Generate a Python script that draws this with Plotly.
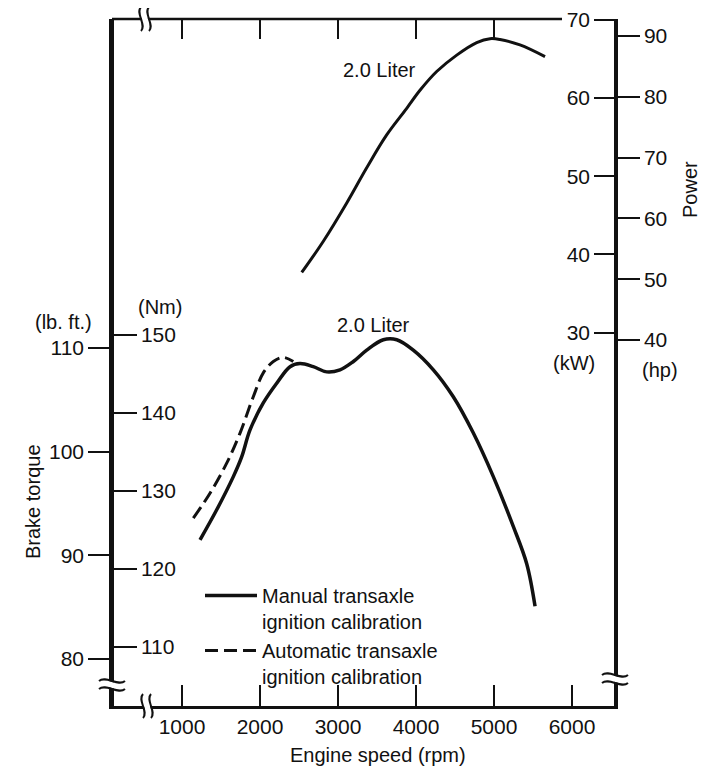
import plotly.graph_objects as go

# ---- data ----
power_rpm = [2535, 2812, 3112, 3368, 3624, 3881, 4051, 4265, 4522, 4778, 4949, 5077, 5333, 5654]
power_kw = [37.7, 41.7, 46.6, 51.1, 55.3, 58.7, 61.0, 63.4, 65.5, 67.1, 67.6, 67.5, 66.8, 65.3]

manual_rpm = [1231, 1445, 1658, 1765, 1872, 2042, 2214, 2385, 2513, 2683, 2855, 3026, 3197, 3368,
              3581, 3753, 3965, 4222, 4478, 4735, 4991, 5247, 5419, 5526]
manual_lbft = [91.5, 94.4, 97.6, 99.5, 102.1, 104.7, 106.6, 108.2, 108.5, 108.2, 107.7, 107.9, 108.7,
               109.8, 110.8, 110.8, 109.8, 107.9, 105.3, 101.8, 97.6, 92.8, 89.2, 85.1]

auto_rpm = [1145, 1359, 1573, 1744, 1914, 2042, 2171, 2299, 2427]
auto_lbft = [93.6, 96.0, 98.9, 101.8, 105.3, 107.6, 108.7, 109.1, 108.7]

rpm_ticks = [1000, 2000, 3000, 4000, 5000, 6000]
rpm_top_ticks = [1000, 2000, 3000, 4000, 5000]
lbft_ticks = [80, 90, 100, 110]
nm_ticks = [110, 120, 130, 140, 150]
kw_ticks = [30, 40, 50, 60, 70]
hp_ticks = [40, 50, 60, 70, 80, 90]

FONT = "Liberation Sans"
INK = "#111111"

# page geometry (browser body has an 8px margin)
FIG_W, FIG_H = 700, 763
PL, PR, PT, PB = 112, 615, 19, 706   # plot area edges in page pixels
W, H = PR - PL, PB - PT

fig = go.Figure()
fig.add_trace(go.Scatter(x=power_rpm, y=power_kw, mode="lines", yaxis="y3",
                         line=dict(color=INK, width=3, shape="spline"), showlegend=False))
fig.add_trace(go.Scatter(x=manual_rpm, y=manual_lbft, mode="lines", yaxis="y",
                         name="Manual transaxle<br>ignition calibration",
                         line=dict(color=INK, width=3.5, shape="spline")))
fig.add_trace(go.Scatter(x=auto_rpm, y=auto_lbft, mode="lines", yaxis="y",
                         name="Automatic transaxle<br>ignition calibration",
                         line=dict(color=INK, width=3, shape="spline", dash="13px,6px")))
# empty traces so the secondary axes render
fig.add_trace(go.Scatter(x=[None], y=[None], yaxis="y2", showlegend=False))
fig.add_trace(go.Scatter(x=[None], y=[None], yaxis="y4", showlegend=False))
fig.add_trace(go.Scatter(x=[None], y=[None], xaxis="x2", showlegend=False))

tickfont = dict(family=FONT, size=21, color=INK)
common = dict(showgrid=False, zeroline=False, showline=True, linecolor=INK, linewidth=2.5,
              tickcolor=INK, tickwidth=2, tickfont=tickfont, automargin=False)
x_range = [102.6, 6551]

fig.update_layout(
    width=FIG_W, height=FIG_H,
    margin=dict(l=PL - 8, r=FIG_W + 8 - PR, t=PT - 8, b=FIG_H + 8 - PB),
    paper_bgcolor="white", plot_bgcolor="white",
    font=dict(family=FONT, size=20, color=INK),
    xaxis=dict(range=x_range, tickvals=rpm_ticks, ticks="inside", ticklen=21, **common),
    xaxis2=dict(range=x_range, tickvals=rpm_top_ticks, ticks="inside", ticklen=20, side="top",
                overlaying="x", showticklabels=False, showgrid=False, zeroline=False,
                showline=False, tickcolor=INK, tickwidth=2),
    yaxis=dict(range=[75.48, 141.73], tickvals=lbft_ticks, ticks="outside", ticklen=21,
               side="left", **common),
    yaxis2=dict(range=[102.44, 190.51], tickvals=nm_ticks, ticks="outside", ticklen=23,
                side="right", anchor="free", position=0, overlaying="y", **common),
    yaxis3=dict(range=[-17.75, 70.12], tickvals=kw_ticks, ticks="outside", ticklen=20,
                side="left", anchor="free", position=1, overlaying="y", **common),
    yaxis4=dict(range=[-20.2, 92.8], tickvals=hp_ticks, ticks="outside", ticklen=22,
                side="right", overlaying="y", **common),
    legend=dict(x=(200 - PL) / W, y=(PB - 576) / H, xanchor="left", yanchor="top", valign="top",
                font=dict(family=FONT, size=20, color=INK), bgcolor="rgba(0,0,0,0)",
                itemwidth=52, tracegroupgap=0),
)

# top border line (stops short of the "70" kW label)
fig.add_shape(type="line", xref="paper", yref="paper", x0=0, x1=(562 - PL) / W, y0=1, y1=1,
              line=dict(color=INK, width=2.5), layer="above")


def ann(text, px, py, angle=0):
    """Text placed at a page-pixel position (converted to plot-area fraction)."""
    fig.add_annotation(text=text, x=(px - PL) / W, y=(PB - py) / H, xref="paper", yref="paper",
                       xanchor="center", yanchor="middle", showarrow=False, textangle=angle,
                       font=dict(family=FONT, size=20, color=INK))


fig.add_annotation(text="2.0 Liter", x=3538, y=63.6, xref="x", yref="y3", showarrow=False,
                   xanchor="center", yanchor="middle", font=dict(family=FONT, size=20, color=INK))
fig.add_annotation(text="2.0 Liter", x=3449, y=112.2, xref="x", yref="y", showarrow=False,
                   xanchor="center", yanchor="middle", font=dict(family=FONT, size=20, color=INK))
ann("Brake torque", 33, 502, angle=-90)
ann("Power", 690, 190, angle=-90)
ann("(lb. ft.)", 63, 322)
ann("(Nm)", 160, 307)
ann("(kW)", 574, 363)
ann("(hp)", 660, 370)
ann("Engine speed (rpm)", 378, 755)


# axis break marks
def hbreak(xf, yf):
    fill = "M -13,3 C -6,9 6,-3 13,3 L 13,-3 C 6,-9 -6,3 -13,-3 Z"
    fig.add_shape(type="path", path=fill, xref="paper", yref="paper", xsizemode="pixel",
                  ysizemode="pixel", xanchor=xf, yanchor=yf, fillcolor="white",
                  line=dict(width=0), layer="above")
    for d in (4, -4):
        p = f"M -13,{d} C -6,{d+6} 6,{d-6} 13,{d}"
        fig.add_shape(type="path", path=p, xref="paper", yref="paper", xsizemode="pixel",
                      ysizemode="pixel", xanchor=xf, yanchor=yf, fillcolor="rgba(0,0,0,0)",
                      line=dict(color=INK, width=2), layer="above")


def vbreak(xf, yf):
    fill = "M -3,-12 C 3,-6 -9,6 -3,12 L 3,12 C -3,6 9,-6 3,-12 Z"
    fig.add_shape(type="path", path=fill, xref="paper", yref="paper", xsizemode="pixel",
                  ysizemode="pixel", xanchor=xf, yanchor=yf, fillcolor="white",
                  line=dict(width=0), layer="above")
    for d in (-4, 4):
        p = f"M {d},-12 C {d+6},-6 {d-6},6 {d},12"
        fig.add_shape(type="path", path=p, xref="paper", yref="paper", xsizemode="pixel",
                      ysizemode="pixel", xanchor=xf, yanchor=yf, fillcolor="rgba(0,0,0,0)",
                      line=dict(color=INK, width=2), layer="above")


hbreak(0.0, (PB - 685) / H)
hbreak(1.0, (PB - 679) / H)
vbreak((145 - PL) / W, 1.0)
vbreak((147 - PL) / W, 0.0)

fig.write_html("out.html")
